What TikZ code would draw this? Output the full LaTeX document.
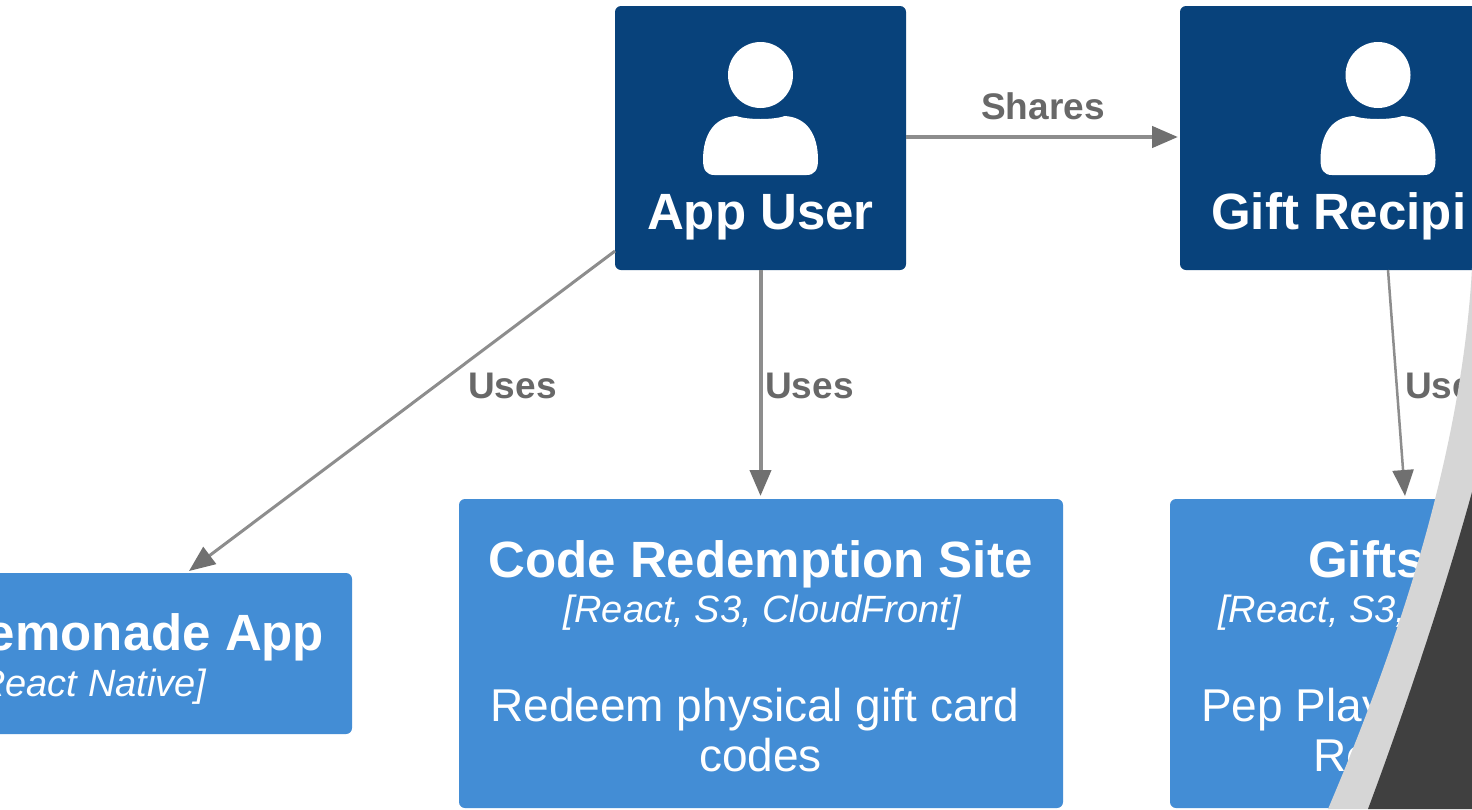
\documentclass[tikz,border=0pt]{standalone}
\usepackage{fontspec}
\setmainfont{Liberation Sans}
\usetikzlibrary{arrows.meta}
\definecolor{darkblue}{HTML}{08427B}
\definecolor{midblue}{HTML}{438DD5}
\definecolor{edgegray}{HTML}{707070}
\definecolor{labelgray}{HTML}{686868}
\definecolor{bandgray}{HTML}{D6D6D6}
\definecolor{slate}{HTML}{404040}
\tikzset{
  personbox/.style={fill=darkblue,rounded corners=6pt,inner sep=0pt,minimum width=#1,minimum height=264pt},
  sysbox/.style 2 args={fill=midblue,rounded corners=6pt,inner sep=0pt,minimum width=#1,minimum height=#2},
  titletext/.style={text=white,anchor=base,inner sep=0pt,font=\fontsize{51}{60}\selectfont\bfseries},
  techtext/.style={text=white,anchor=base,inner sep=0pt,font=\fontsize{38}{46}\selectfont\itshape},
  bodytext/.style={text=white,anchor=base,inner sep=0pt,font=\fontsize{46}{56}\selectfont},
  edgelabel/.style={text=labelgray,anchor=base,inner sep=0pt,font=\fontsize{37}{44}\selectfont\bfseries},
  relation/.style={draw=edgegray!80,line width=#1,-{Triangle[length=26pt,width=21pt,color=edgegray]}},
}
\newcommand{\personicon}[1]{%
  \begin{scope}[shift={(#1,0)}]
    \fill[white] (0,75) ellipse (32.5pt and 33pt);
    \fill[white] (-57.5,160) .. controls (-57.5,134) and (-46,117) .. (-24,116)
      .. controls (-14,120) and (14,120) .. (24,116)
      .. controls (46,117) and (57.5,134) .. (57.5,160)
      .. controls (57.5,170) and (54,175) .. (46,175)
      -- (-46,175) .. controls (-54,175) and (-57.5,170) .. (-57.5,160) -- cycle;
  \end{scope}}
\begin{document}
\begin{tikzpicture}[x=1pt,y=-1pt]
\useasboundingbox (0,0) rectangle (1472,809);
\clip (0,0) rectangle (1472,809);
\fill[white] (0,0) rectangle (1472,809);
% boxes
\node[personbox=291pt] (user) at (760.5,138) {};
\node[personbox=396pt] (recipient) at (1378,138) {};
\node[sysbox={604pt}{309pt}] (code) at (761,653.5) {};
\node[sysbox={424pt}{161pt}] (lemon) at (140,653.5) {};
\node[sysbox={496pt}{309pt}] (gifts) at (1418,653.5) {};
% connector ends
\coordinate (userleft) at (615,251);
\coordinate (lemontop) at (189,571);
\coordinate (usertoright) at (906,137);
\coordinate (recipleft) at (1178,137);
\coordinate (recipbottom) at (1388,270);
\coordinate (giftstop) at (1405,496);
\coordinate (usertop) at (760.5,270);
\coordinate (codetop) at (760.5,496);
% connectors
\draw[relation=3pt] (userleft) -- (lemontop);
\draw[relation=4pt] (usertop) -- (codetop);
\draw[relation=4.5pt] (usertoright) -- (recipleft);
\draw[relation=2.5pt] (recipbottom) -- (giftstop);
% icons
\personicon{760.5}
\personicon{1378}
% texts
\node[titletext] (t1) at (760.5,229) {App User};
\node[titletext,anchor=base west] (t2) at (1211,229) {Gift Recipi};
\node[titletext] (t3) at (760.5,577) {Code Redemption Site};
\node[techtext] (t4) at (762.5,622) {[React, S3, CloudFront]};
\node[bodytext] (t5) at (755,721) {Redeem physical gift card};
\node[bodytext] (t6) at (760.5,771) {codes};
\node[titletext] (t7) at (140,650) {Lemonade App};
\node[techtext] (t8) at (87,696) {[React Native]};
\node[titletext,anchor=base west] (t9) at (1308,577) {Gifts};
\node[techtext,anchor=base west] (t10) at (1218,622) {[React, S3,};
\node[bodytext,anchor=base west] (t11) at (1201,721) {Pep Play};
\node[bodytext,anchor=base west] (t12) at (1313,771) {Re};
\node[edgelabel] (l1) at (1043,119) {Shares};
\node[edgelabel] (l2) at (512.5,398) {Uses};
\node[edgelabel] (l3) at (809.5,398) {Uses};
\node[edgelabel,anchor=base west] (l4) at (1405,398) {Uses};
% overlay
\fill[bandgray] (1472,268) .. controls (1462,450) and (1400,640) .. (1328,809) -- (1480,809) -- (1480,268) -- cycle;
\fill[slate] (1472,492) .. controls (1445,590) and (1405,710) .. (1368,809) -- (1480,809) -- (1480,492) -- cycle;
\end{tikzpicture}
\end{document}
